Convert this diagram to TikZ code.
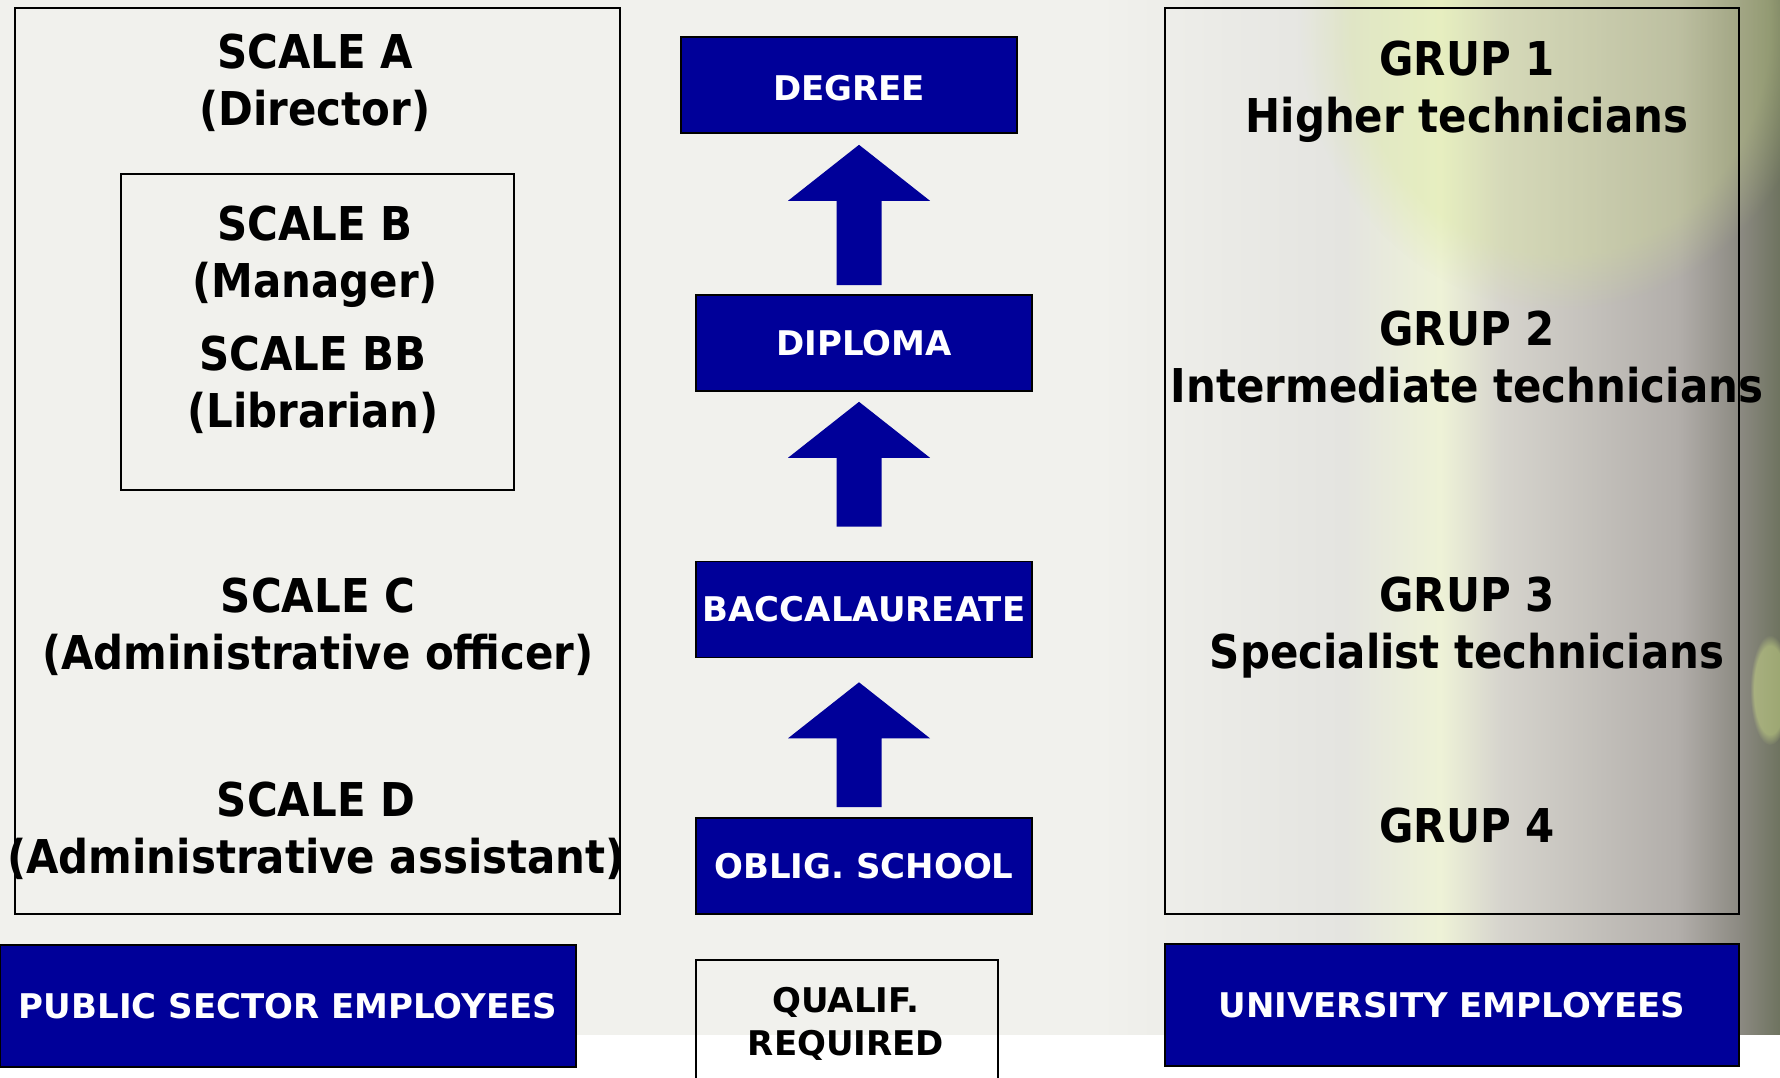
\documentclass[tikz,border=0pt]{standalone}
\usepackage{fontspec}
\setmainfont{DejaVu Sans}
\newfontfamily\lblfont[FakeStretch=0.9]{DejaVu Sans}
\usetikzlibrary{calc,fadings}
\definecolor{boxblue}{RGB}{0,0,153}
\definecolor{bgpale}{RGB}{241,241,237}
\definecolor{bgstreak}{RGB}{215,232,140}
\pgfdeclarehorizontalshading{photo}{100bp}{
  rgb(0bp)=(0.945,0.945,0.929); rgb(25bp)=(0.945,0.945,0.929);
  rgb(43bp)=(0.894,0.894,0.878); rgb(50bp)=(0.933,0.949,0.843);
  rgb(54.5bp)=(0.839,0.831,0.804); rgb(67.5bp)=(0.698,0.682,0.667);
  rgb(72bp)=(0.549,0.541,0.51); rgb(75bp)=(0.431,0.451,0.373);
  rgb(100bp)=(0.431,0.451,0.373)}
\tikzset{
  panel/.style={draw=black, line width=0.8pt},
  blubox/.style={draw=black, line width=0.8pt, fill=boxblue, text=white, inner sep=0pt,
    font=\bfseries\fontsize{17}{21}\selectfont},
  lbl/.style={align=center, font=\lblfont\bfseries\fontsize{23.3}{28.5}\selectfont},
}
% block arrow from #1 (shaft foot) up to #2 (tip)
\newcommand\qarrow[2]{\fill[boxblue] ($(#1)+(-22.5,0)$) -- ($(#2)+(-22.5,56)$) -- ($(#2)+(-71,56)$)
  -- (#2) -- ($(#2)+(71,56)$) -- ($(#2)+(22.5,56)$) -- ($(#1)+(22.5,0)$) -- cycle;}
\begin{document}
\begin{tikzpicture}[x=0.5pt,y=-0.5pt]
\useasboundingbox (0,0) rectangle (1780,1077);
\clip (0,0) rectangle (1780,1077);
% background
\fill[bgpale] (0,0) rectangle (1780,1077);
\shade[shading=photo] (1100,0) rectangle (1780,1035);
\fill[bgstreak, opacity=.3, path fading=circle with fuzzy edge 20 percent] (1560,30) ellipse (260 and 280);
\fill[bgstreak, opacity=.45, path fading=circle with fuzzy edge 20 percent] (1770,690) ellipse (20 and 55);
\fill[white] (0,1035) rectangle (1780,1077);

% public sector
\draw[panel] (15,8) rectangle (620,914);
\draw[panel] (121,174) rectangle (514,490);
\node[lbl] (scA) at (315,83) {SCALE A\\(Director)};
\node[lbl] (scB) at (315,257) {SCALE B\\(Manager)};
\node[lbl] (scBB) at (313,385) {SCALE BB\\(Librarian)};
\node[lbl] (scC) at (318,627) {SCALE C\\(Administrative officer)};
\node[lbl] (scD) at (316,831) {SCALE D\\(Administrative assistant)};
\node[blubox, minimum width=288pt, minimum height=61pt] (pub) at (288,1006) {PUBLIC SECTOR EMPLOYEES};

% qualifications
\node[blubox, minimum width=168pt, minimum height=48pt, text height=16pt] (deg) at (849,85) {DEGREE};
\node[blubox, minimum width=168pt, minimum height=48pt] (dipl) at (864,343) {DIPLOMA};
\node[blubox, minimum width=168pt, minimum height=48pt] (bacc) at (864,609.5) {BACCALAUREATE};
\node[blubox, minimum width=168pt, minimum height=48pt] (oblig) at (864,866) {OBLIG. SCHOOL};
\draw[panel] (696,960) rectangle (998,1110);
\node[align=center, font=\bfseries\fontsize{17}{21.5}\selectfont] (qual) at (846,1024) {QUALIF.\\REQUIRED};

\coordinate (ax) at (859,0);
\coordinate (a1b) at ($(dipl.north -| ax)+(0,-9)$);
\coordinate (a1t) at ($(deg.south -| ax)+(0,11)$);
\coordinate (a2b) at ($(bacc.north -| ax)+(0,-34)$);
\coordinate (a2t) at ($(dipl.south -| ax)+(0,10)$);
\coordinate (a3b) at ($(oblig.north -| ax)+(0,-10)$);
\coordinate (a3t) at ($(bacc.south -| ax)+(0,24)$);
\qarrow{a1b}{a1t}
\qarrow{a2b}{a2t}
\qarrow{a3b}{a3t}

% university
\draw[panel] (1165,8) rectangle (1739,914);
\node[lbl] (grp1) at (1467,92) {GRUP 1\\Higher technicians};
\node[lbl] (grp2) at (1467,357) {GRUP 2\\Intermediate technicians};
\node[lbl] (grp3) at (1467,628) {GRUP 3\\Specialist technicians};
\node[lbl] (grp4) at (1467,826) {GRUP 4};
\node[blubox, minimum width=287pt, minimum height=61pt] (uni) at (1452,1005) {UNIVERSITY EMPLOYEES};
\end{tikzpicture}
\end{document}
